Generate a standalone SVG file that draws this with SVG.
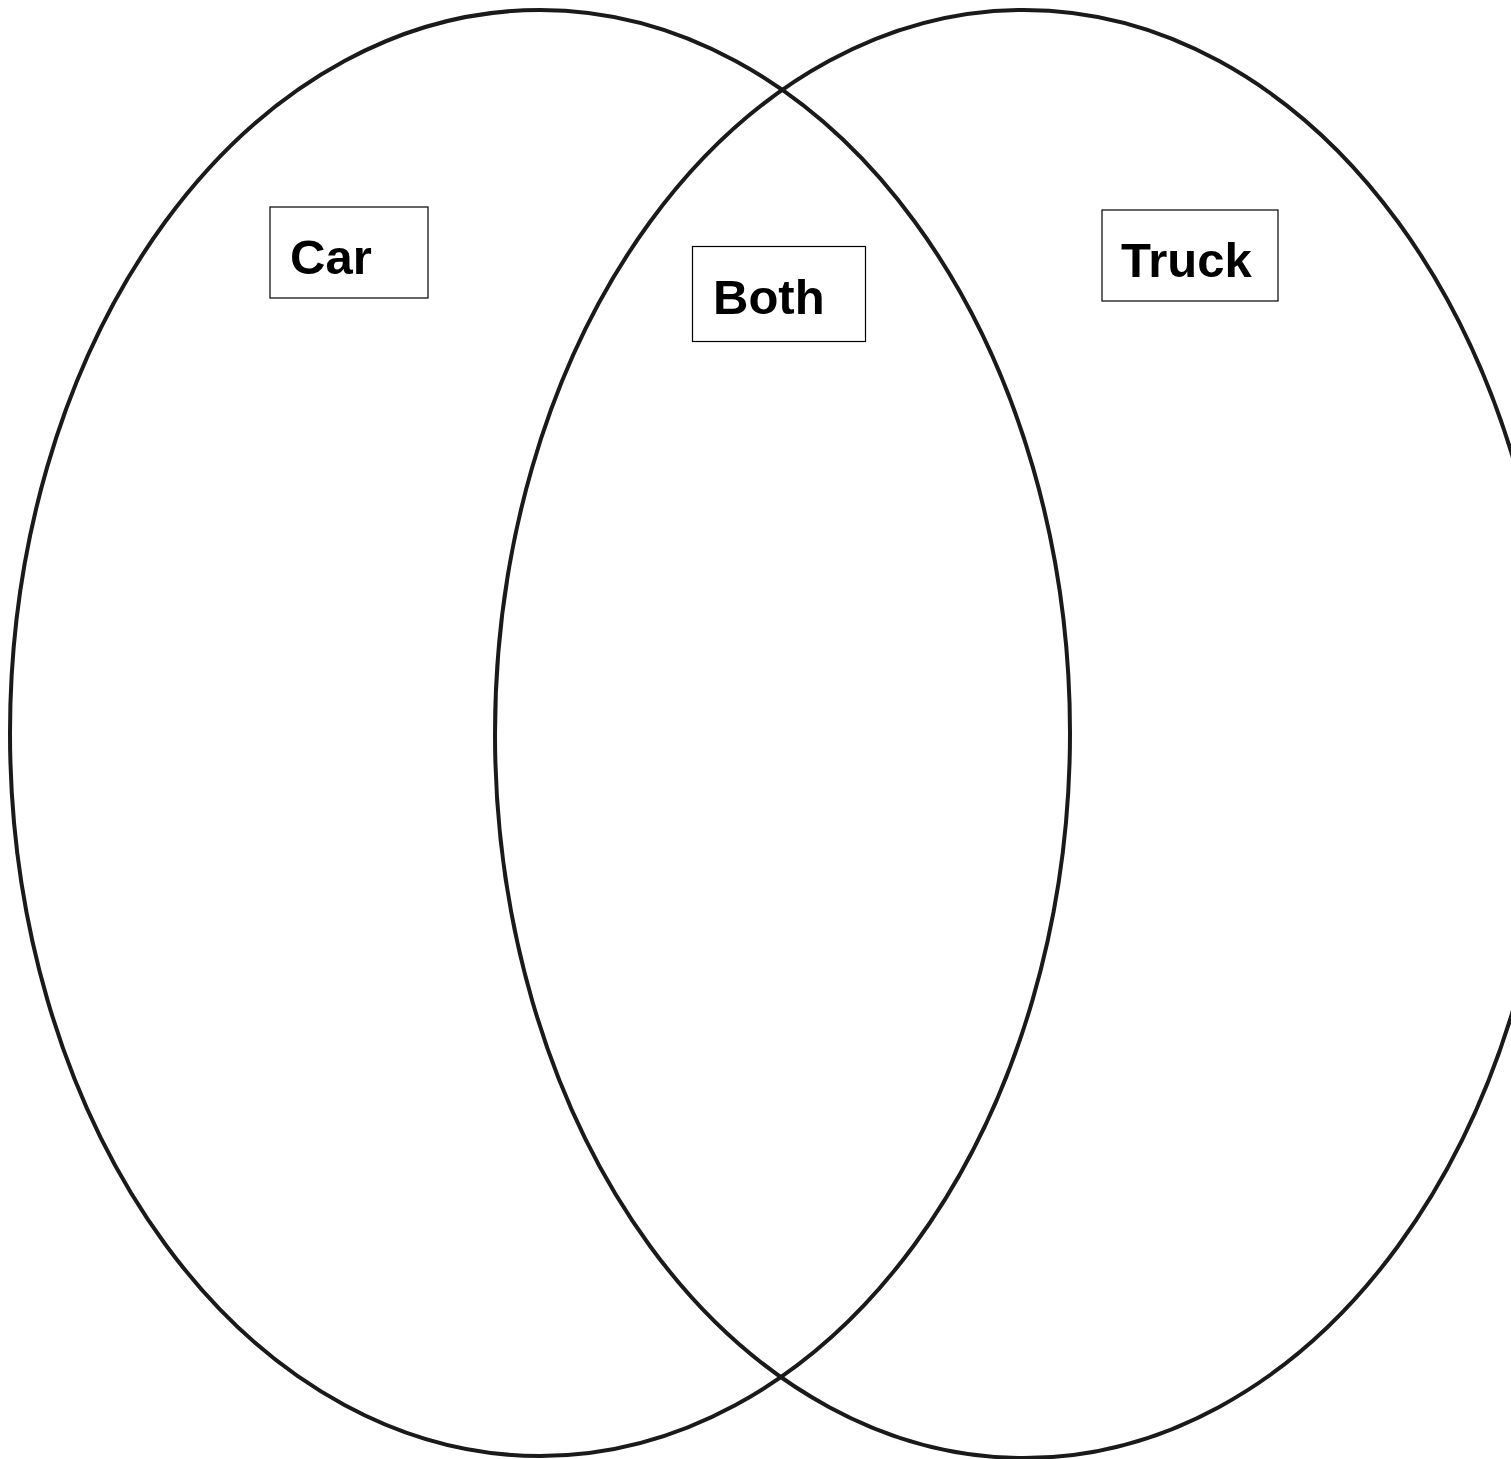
<svg xmlns="http://www.w3.org/2000/svg" width="1511" height="1459" viewBox="0 0 1511 1459">
<style>
.set{fill:none;stroke:#1a1a1a;stroke-width:4}
.box{fill:#fff;stroke:#000;stroke-width:1.2}
.lbl{font-family:"Liberation Sans",Arial,sans-serif;font-weight:bold;font-size:49px;fill:#000}
</style>
<rect width="1511" height="1459" fill="#fff"/>
<g id="set-car"><ellipse class="set" cx="540" cy="733" rx="530" ry="723"/></g>
<g id="set-truck"><ellipse class="set" cx="1024" cy="734" rx="529" ry="724"/></g>
<g id="label-car"><rect class="box" x="270" y="207" width="158" height="91"/><text class="lbl" x="290" y="274">Car</text></g>
<g id="label-both"><rect class="box" x="692.5" y="246.5" width="173" height="95"/><text class="lbl" x="713" y="314">Both</text></g>
<g id="label-truck"><rect class="box" x="1102" y="210" width="176" height="91"/><text class="lbl" x="1121" y="277">Truck</text></g>
<g id="connectors"/>
</svg>
